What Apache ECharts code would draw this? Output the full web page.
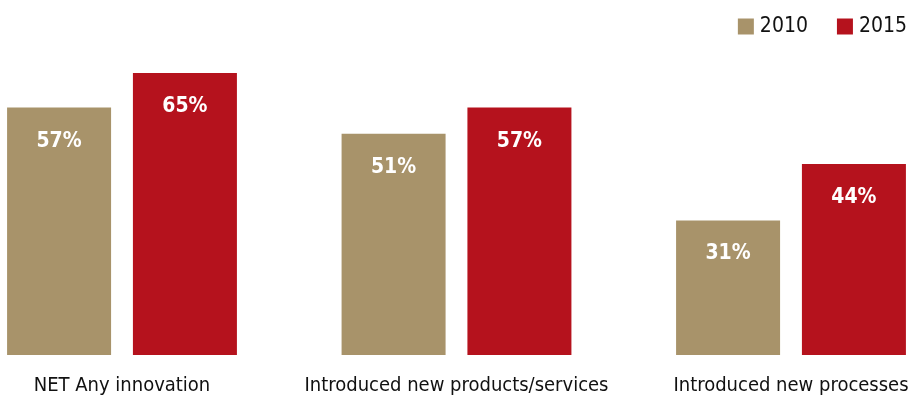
<!DOCTYPE html>
<html>
<head>
<meta charset="utf-8">
<script src="https://cdn.jsdelivr.net/npm/echarts@6/dist/echarts.min.js"></script>
<style>html,body{margin:0;padding:0;background:#fff}#c{width:917px;height:400px}</style>
</head>
<body>
<div id="c"></div>
<script>
var categories = ['NET Any innovation', 'Introduced new products/services', 'Introduced new processes'];
var values2010 = [57, 51, 31];
var values2015 = [65, 57, 44];
var seriesNames = ['2010', '2015'];

var FONT = "'DejaVu Sans Condensed', 'Liberation Sans Narrow', sans-serif";
var chart = echarts.init(document.getElementById('c'));
chart.setOption({
  animation: false,
  textStyle: { fontFamily: FONT },
  legend: {
    right: 5, top: 11,
    itemWidth: 16, itemHeight: 16, itemGap: 29,
    icon: 'rect',
    textStyle: { fontSize: 21, color: '#111', fontFamily: FONT, padding: [0,0,0,1] },
    data: seriesNames
  },
  grid: { left: -45.25, right: -41.25, top: 51.2, bottom: 45, outerBoundsMode: 'none', containLabel: false },
  xAxis: {
    type: 'category',
    data: categories,
    axisLine: { show: false },
    axisTick: { show: false },
    axisLabel: { fontSize: 20, color: '#111', margin: 21, fontFamily: FONT, interval: 0 }
  },
  yAxis: {
    type: 'value', min: 0, max: 70,
    show: false,
    splitLine: { show: false }
  },
  series: [
    {
      name: seriesNames[0], type: 'bar', data: values2010,
      barWidth: 104, barGap: '21%',
      itemStyle: { color: '#A8936A' },
      label: { show: true, position: 'insideTop', distance: 23, formatter: '{c}%',
               color: '#fff', fontSize: 21, fontWeight: 'bold', fontFamily: FONT }
    },
    {
      name: seriesNames[1], type: 'bar', data: values2015,
      barWidth: 104,
      itemStyle: { color: '#B5121D' },
      label: { show: true, position: 'insideTop', distance: 23, formatter: '{c}%',
               color: '#fff', fontSize: 21, fontWeight: 'bold', fontFamily: FONT }
    }
  ]
});
</script>
</body>
</html>
